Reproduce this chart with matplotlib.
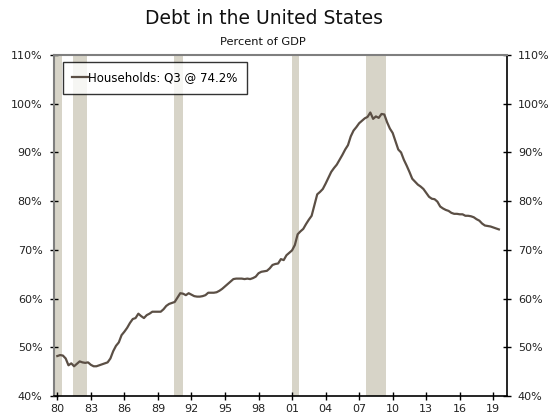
import matplotlib
matplotlib.use("Agg")
import matplotlib.pyplot as plt
from matplotlib.ticker import FuncFormatter

# household debt, percent of GDP, quarterly 1980Q1 .. 2019Q3
start_year = 1980
households = [
    48.2, 48.4, 48.3, 47.7,  # 1980
    46.3, 46.7, 46.1, 46.6,  # 1981
    47.1, 46.9, 46.8, 46.9,  # 1982
    46.4, 46.1, 46.1, 46.3,  # 1983
    46.5, 46.7, 46.9, 47.7,  # 1984
    49.2, 50.3, 51.0, 52.5,  # 1985
    53.2, 54.0, 55.0, 55.8,  # 1986
    56.0, 56.9, 56.4, 56.0,  # 1987
    56.6, 56.9, 57.3, 57.3,  # 1988
    57.3, 57.3, 57.8, 58.5,  # 1989
    58.9, 59.1, 59.3, 60.2,  # 1990
    61.1, 61.0, 60.7, 61.1,  # 1991
    60.8, 60.5, 60.4, 60.4,  # 1992
    60.5, 60.7, 61.2, 61.2,  # 1993
    61.2, 61.3, 61.6, 62.0,  # 1994
    62.5, 63.0, 63.5, 64.0,  # 1995
    64.1, 64.1, 64.1, 64.0,  # 1996
    64.1, 64.0, 64.2, 64.5,  # 1997
    65.2, 65.5, 65.6, 65.7,  # 1998
    66.2, 66.9, 67.1, 67.2,  # 1999
    68.1, 67.9, 68.9, 69.4,  # 2000
    69.9, 71.0, 73.2, 73.8,  # 2001
    74.3, 75.3, 76.2, 77.0,  # 2002
    79.2, 81.4, 81.9, 82.5,  # 2003
    83.6, 84.8, 86.0, 86.8,  # 2004
    87.5, 88.5, 89.5, 90.6,  # 2005
    91.5, 93.3, 94.5, 95.2,  # 2006
    96.0, 96.5, 97.0, 97.3,  # 2007
    98.2, 96.9, 97.4, 97.1,  # 2008
    97.9, 97.8, 96.2, 94.9,  # 2009
    94.0, 92.3, 90.6, 90.0,  # 2010
    88.5, 87.3, 86.0, 84.6,  # 2011
    84.0, 83.4, 83.0, 82.5,  # 2012
    81.7, 80.9, 80.5, 80.4,  # 2013
    79.9, 78.9, 78.5, 78.2,  # 2014
    78.0, 77.6, 77.4, 77.4,  # 2015
    77.3, 77.3, 77.0, 77.0,  # 2016
    76.9, 76.7, 76.3, 76.0,  # 2017
    75.4, 75.0, 74.9, 74.8,  # 2018
    74.6, 74.4, 74.2,        # 2019
]
dates = [start_year + i / 4 for i in range(len(households))]

# recession periods (start, end) in fractional years
recessions = [(1979.6, 1980.45), (1981.4, 1982.65), (1990.45, 1991.2),
              (2000.95, 2001.65), (2007.65, 2009.4)]

x_ticks = list(range(1980, 2020, 3))
x_labels = [f"{y % 100:02d}" for y in x_ticks]
y_ticks = list(range(40, 111, 10))

line_color = '#5b4f45'
band_color = '#d7d4c8'

fig = plt.figure(figsize=(5.55, 4.17), dpi=100)
ax = fig.add_axes([0.0964, 0.0504, 0.8166, 0.8176])

for a, b in recessions:
    ax.axvspan(a, b, color=band_color, lw=0, zorder=1)

ax.plot(dates, households, color=line_color, lw=1.6, zorder=3,
        label='Households: Q3 @ 74.2%')

ax.set_xlim(1979.66, 2020.2)
ax.set_ylim(40, 110)
ax.set_xticks(x_ticks)
ax.set_xticklabels(x_labels)
ax.set_yticks(y_ticks)
ax.yaxis.set_major_formatter(FuncFormatter(lambda v, p: f"{v:.0f}%"))

ax.tick_params(axis='both', direction='inout', length=6, width=1, labelsize=8,
               color='black', labelcolor='#222222')
ax.tick_params(axis='y', left=True, right=True, labelleft=True, labelright=True, pad=5)
ax.tick_params(axis='x', pad=3)

# frame: grey top/left, black right/bottom
for side in ('top', 'left'):
    ax.spines[side].set_color('#7f7f7f')
    ax.spines[side].set_linewidth(1.5)
for side in ('right', 'bottom'):
    ax.spines[side].set_color('black')
    ax.spines[side].set_linewidth(1.2)

leg = ax.legend(loc='upper left', bbox_to_anchor=(0.021, 0.98), borderaxespad=0,
                fontsize=8.5, frameon=True, fancybox=False, handlelength=1.3,
                handletextpad=0.05, borderpad=0.8)
leg.get_frame().set_edgecolor('black')
leg.get_frame().set_linewidth(1)

fig.text(0.476, 0.955, 'Debt in the United States', ha='center', va='center',
         fontsize=13.5, color='#111111')
fig.text(0.474, 0.900, 'Percent of GDP', ha='center', va='center',
         fontsize=8.2, color='#111111')

fig.savefig('out.png', dpi=100)
